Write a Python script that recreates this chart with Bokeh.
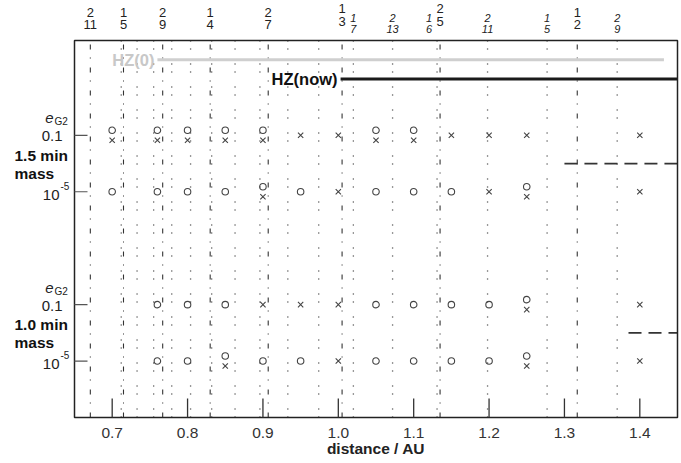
from bokeh.plotting import figure
from bokeh.models import Range1d
from bokeh.core.properties import value
from bokeh.embed import file_html
from bokeh.resources import INLINE

FONT = "Liberation Sans"

# ---------------- data ----------------
distances = [0.70, 0.76, 0.80, 0.85, 0.90, 0.95, 1.00, 1.05, 1.10, 1.15, 1.20, 1.25, 1.40]
# outcome per distance: "o", "x", "ox" (both), "" (no run)
m15_e01 = ["ox", "ox", "ox", "ox", "ox", "x", "x", "ox", "ox", "x", "x", "x", "x"]
m15_e1e5 = ["o", "o", "o", "o", "ox", "o", "x", "o", "o", "o", "x", "ox", "x"]
m10_e01 = ["", "o", "o", "o", "x", "x", "x", "o", "o", "o", "o", "ox", "x"]
m10_e1e5 = ["", "o", "o", "ox", "o", "o", "x", "o", "o", "o", "o", "ox", "x"]

# resonances with the inner giant (upright labels)
res_a_pos = [0.671, 0.715, 0.767, 0.830, 0.907, 1.005, 1.135, 1.317]
res_a_num = ["2", "1", "2", "1", "2", "1", "2", "1"]
res_a_den = ["11", "5", "9", "4", "7", "3", "5", "2"]
# resonances with the outer giant (italic labels; the first ones are unlabelled)
res_b_pos = [0.712, 0.733, 0.755, 0.779, 0.804, 0.832, 0.863, 0.896, 0.933, 0.974,
             1.020, 1.072, 1.131, 1.198, 1.277, 1.370]
res_b_num = ["", "", "", "", "", "", "", "", "", "", "1", "2", "1", "2", "1", "2"]
res_b_den = ["", "", "", "", "", "", "", "", "", "", "7", "13", "6", "11", "5", "9"]

hz_names = ["HZ(0)", "HZ(now)"]
hz_inner = [0.760, 1.003]
hz_outer = [1.432, 1.45]

limit_start = [1.300, 1.385]
limit_end = [1.45, 1.45]

x_ticks = [0.7, 0.8, 0.9, 1.0, 1.1, 1.2, 1.3, 1.4]
x_tick_labels = ["0.7", "0.8", "0.9", "1.0", "1.1", "1.2", "1.3", "1.4"]
x_title = "distance / AU"
ecc_high = "0.1"
ecc_low_base, ecc_low_exp = "10", "-5"
mass_labels = ["1.5 min", "1.0 min"]

# ---------------- layout (canvas pixels) ----------------
CW, CH = 681, 463
L, R, T, B = 74, 677, 40, 417
X0, X1, Y0, Y1 = 0.65, 1.45, 0.0, 6.68
SX = (R - L) / (X1 - X0)
SY = (B - T) / (Y1 - Y0)


def xd(px):
    return X0 + (px - L) / SX


def yd(py):
    return Y0 + (B - py) / SY


def ypx(yv):
    return B - (yv - Y0) * SY


row_y = {"m15_e01": 5, "m15_e1e5": 4, "m10_e01": 2, "m10_e1e5": 1}
hz_y = [6.34, 6.0]
limit_y = [4.5, 1.5]
STACK = 5 / SY

p = figure(width=CW, height=CH, output_backend="svg", toolbar_location=None,
           x_range=Range1d(xd(0), xd(CW)), y_range=Range1d(yd(CH), yd(0)),
           x_axis_location=None, y_axis_location=None, min_border=0)
p.title.visible = False
p.grid.visible = False
p.outline_line_color = None
p.background_fill_color = "white"
p.border_fill_color = "white"


def txt(xs, ys, texts, size="15px", style="normal", align="center",
        baseline="middle", color="#222222"):
    p.text(x=xs, y=ys, text=texts, text_font=value(FONT), text_font_size=value(size),
           text_font_style=value(style), text_align=value(align),
           text_baseline=value(baseline), text_color=color)


# resonance lines
p.segment(x0=res_a_pos, x1=res_a_pos, y0=[Y0] * len(res_a_pos), y1=[Y1] * len(res_a_pos),
          line_color="#333333", line_width=1.1, line_dash="5 9 1 8")
p.segment(x0=res_b_pos, x1=res_b_pos, y0=[Y0] * len(res_b_pos), y1=[Y1] * len(res_b_pos),
          line_color="#333333", line_width=1.3, line_dash="1 7 1 14")

# habitable zones
p.segment(x0=hz_inner, x1=hz_outer, y0=hz_y, y1=hz_y,
          line_color=["#cfcfcf", "#1a1a1a"], line_width=3)
txt([xd(L + (x - X0) * SX - 3) for x in hz_inner[:1]], hz_y[:1], hz_names[:1],
    size="16.5px", style="bold", align="right", color="#c8c8c8")
txt([xd(L + (x - X0) * SX - 3) for x in hz_inner[1:]], hz_y[1:], hz_names[1:],
    size="16.5px", style="bold", align="right", color="#111111")

# stability limits
p.segment(x0=limit_start, x1=limit_end, y0=limit_y, y1=limit_y,
          line_color="#333333", line_width=1.8, line_dash="13 7")

# outcomes
ox, oy, xx, xy = [], [], [], []
for name, vals in [("m15_e01", m15_e01), ("m15_e1e5", m15_e1e5),
                   ("m10_e01", m10_e01), ("m10_e1e5", m10_e1e5)]:
    base = row_y[name]
    for d, v in zip(distances, vals):
        if v == "o":
            ox.append(d); oy.append(base)
        elif v == "x":
            xx.append(d); xy.append(base)
        elif v == "ox":
            ox.append(d); oy.append(base + STACK)
            xx.append(d); xy.append(base - STACK)

p.scatter(ox, oy, marker="circle", size=6.5, fill_alpha=0, line_color="#444444", line_width=1.1)
p.scatter(xx, xy, marker="x", size=7.5, line_color="#444444", line_width=1.1)

# frame box
p.quad(left=[X0], right=[X1], bottom=[Y0], top=[Y1], fill_color=None,
       line_color="#222222", line_width=1.5)

# x ticks (inside) and labels
p.segment(x0=x_ticks, x1=x_ticks, y0=[Y0] * len(x_ticks), y1=[yd(B - 19)] * len(x_ticks),
          line_color="#333333", line_width=1.3)
txt(x_ticks, [yd(432)] * len(x_ticks), x_tick_labels, size="15.5px", color="#333333")
txt([(X0 + X1) / 2], [yd(448)], [x_title], size="15.5px", style="bold", color="#222222")

# y ticks (inside)
rows = sorted(row_y.values())
p.segment(x0=[X0] * len(rows), x1=[xd(L + 13)] * len(rows), y0=rows, y1=rows,
          line_color="#555555", line_width=1.2)

# left labels
for top_row, bot_row, mlabel in [(row_y["m15_e01"], row_y["m15_e1e5"], mass_labels[0]),
                                 (row_y["m10_e01"], row_y["m10_e1e5"], mass_labels[1])]:
    ty = ypx(top_row)
    by = ypx(bot_row)
    txt([xd(53)], [yd(ty - 17)], ["e"], size="15px", style="italic", align="right")
    txt([xd(54)], [yd(ty - 13.5)], ["G2"], size="10px", align="left")
    txt([xd(62)], [yd(ty + 1)], [ecc_high], size="15px", align="right")
    txt([xd(14)], [yd(ty + 20)], [mlabel], size="15.5px", style="bold", align="left",
        color="#111111")
    txt([xd(14)], [yd(ty + 38)], ["mass"], size="15.5px", style="bold", align="left",
        color="#111111")
    txt([xd(59)], [yd(by + 3)], [ecc_low_base], size="15px", align="right")
    txt([xd(60)], [yd(by - 6)], [ecc_low_exp], size="10px", align="left")

# top resonance labels
for pos, n, d in zip(res_a_pos, res_a_num, res_a_den):
    raise_ = 3.5 if (n, d) in [("1", "3"), ("2", "5")] else 0
    txt([pos], [yd(11.5 - raise_)], [n], size="13px")
    txt([pos], [yd(24 - raise_)], [d], size="13px")
for pos, n, d in zip(res_b_pos, res_b_num, res_b_den):
    if not n:
        continue
    shift = -8 if (n, d) == ("1", "6") else 0
    xp = xd(L + (pos - X0) * SX + shift)
    txt([xp], [yd(17.5)], [n], size="11px", style="italic")
    txt([xp], [yd(28)], [d], size="11px", style="italic")

open("out.html", "w").write(file_html(p, INLINE))
